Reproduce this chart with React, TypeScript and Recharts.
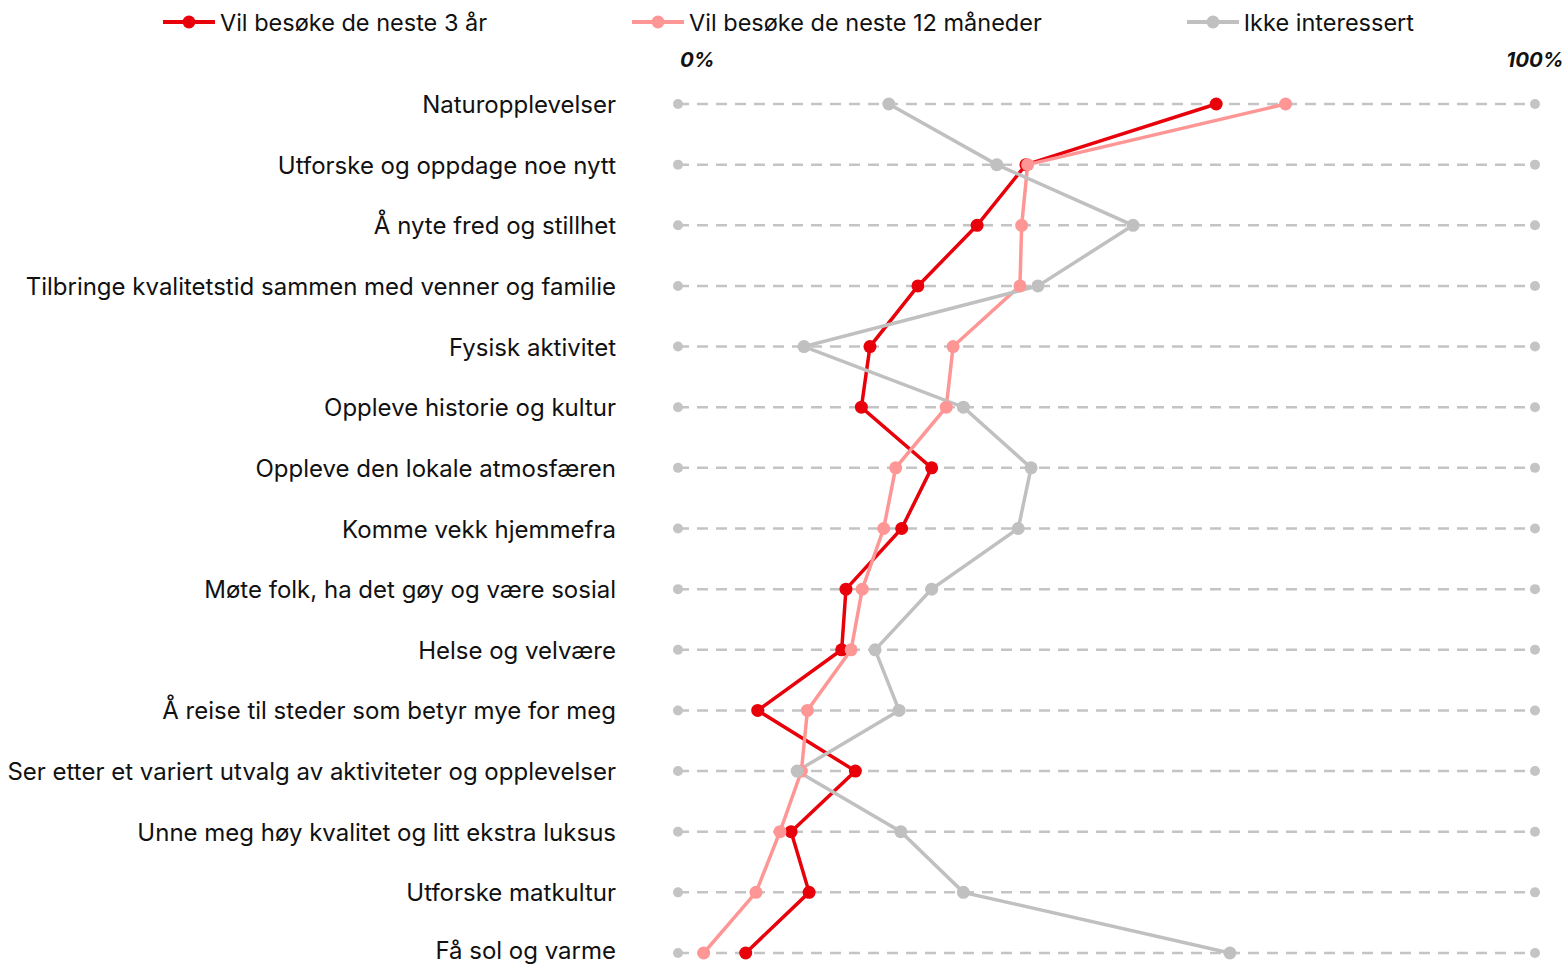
import React from 'react';
import {
  LineChart,
  Line,
  XAxis,
  YAxis,
  CartesianGrid,
  Legend,
  ReferenceDot,
} from 'recharts';

const categories = [
  'Naturopplevelser',
  'Utforske og oppdage noe nytt',
  'Å nyte fred og stillhet',
  'Tilbringe kvalitetstid sammen med venner og familie',
  'Fysisk aktivitet',
  'Oppleve historie og kultur',
  'Oppleve den lokale atmosfæren',
  'Komme vekk hjemmefra',
  'Møte folk, ha det gøy og være sosial',
  'Helse og velvære',
  'Å reise til steder som betyr mye for meg',
  'Ser etter et variert utvalg av aktiviteter og opplevelser',
  'Unne meg høy kvalitet og litt ekstra luksus',
  'Utforske matkultur',
  'Få sol og varme',
];

const visit3Years = [62.8, 40.6, 34.9, 28.0, 22.4, 21.4, 29.6, 26.1, 19.6, 19.1, 9.3, 20.7, 13.2, 15.3, 7.9];
const visit12Months = [70.9, 40.8, 40.1, 39.9, 32.1, 31.3, 25.4, 24.0, 21.5, 20.2, 15.1, 14.4, 11.9, 9.1, 3.0];
const notInterested = [24.6, 37.2, 53.1, 42.0, 14.7, 33.3, 41.2, 39.7, 29.6, 23.0, 25.8, 13.9, 26.0, 33.3, 64.4];

const xTicks = [0, 100];

const series = [
  { key: 'visit3Years', name: 'Vil besøke de neste 3 år', color: '#e8000a' },
  { key: 'visit12Months', name: 'Vil besøke de neste 12 måneder', color: '#ff9696' },
  { key: 'notInterested', name: 'Ikke interessert', color: '#c0c0c0' },
];

const data = categories.map((category, i) => ({
  category,
  visit3Years: visit3Years[i],
  visit12Months: visit12Months[i],
  notInterested: notInterested[i],
}));

const FONT = 'Inter, Roboto, sans-serif';

function CategoryTick({ x, y, payload }: any) {
  // the last label sits a little higher so its descenders stay inside the picture
  const isLast = payload.index === categories.length - 1;
  return (
    <text
      x={x}
      y={y}
      dy={isLast ? 6 : 9}
      textAnchor="end"
      fill="#111"
      fontSize={24}
      fontFamily={FONT}
    >
      {payload.value}
    </text>
  );
}

function PercentTick({ x, y, payload }: any) {
  const isStart = payload.value === 0;
  return (
    <text
      x={isStart ? x + 2 : x}
      y={y}
      textAnchor={isStart ? 'start' : 'middle'}
      fill="#111"
      fontSize={20.5}
      fontWeight={700}
      fontStyle="italic"
      fontFamily={FONT}
    >
      {payload.value}%
    </text>
  );
}

function LegendContent() {
  return (
    <div
      style={{
        display: 'flex',
        justifyContent: 'center',
        gap: 145,
        height: 44,
        paddingLeft: 42,
        alignItems: 'center',
        fontFamily: FONT,
        fontSize: 23.5,
        color: '#111',
      }}
    >
      {series.map((s) => (
        <div key={s.key} style={{ display: 'flex', alignItems: 'center', gap: 5 }}>
          <svg width={52} height={14}>
            <line x1={0} x2={52} y1={7} y2={7} stroke={s.color} strokeWidth={4} />
            <circle cx={26} cy={7} r={6.5} fill={s.color} />
          </svg>
          <span>{s.name}</span>
        </div>
      ))}
    </div>
  );
}

export default function App() {
  return (
    <div style={{ position: 'absolute', left: 0, top: 0, background: '#fff' }}>
      <LineChart
        width={1565}
        height={966}
        data={data}
        layout="vertical"
        margin={{ top: 0, right: 30, bottom: 13, left: 0 }}
      >
        <CartesianGrid
          vertical={false}
          stroke="#c4c4c4"
          strokeWidth={2.5}
          strokeDasharray="11 8"
        />
        <XAxis
          type="number"
          orientation="top"
          domain={[0, 100]}
          ticks={xTicks}
          axisLine={false}
          tickLine={false}
          height={60}
          tickMargin={31}
          tick={<PercentTick />}
        />
        <YAxis
          type="category"
          dataKey="category"
          width={678}
          axisLine={false}
          tickLine={false}
          tickMargin={56}
          interval={0}
          tick={<CategoryTick />}
        />
        <Legend verticalAlign="top" align="center" content={<LegendContent />} />
        {categories.map((c) => (
          <ReferenceDot key={`s-${c}`} x={0} y={c} r={5} fill="#c4c4c4" stroke="none" ifOverflow="visible" />
        ))}
        {categories.map((c) => (
          <ReferenceDot key={`e-${c}`} x={100} y={c} r={5} fill="#c4c4c4" stroke="none" ifOverflow="visible" />
        ))}
        {series.map((s) => (
          <Line
            key={s.key}
            dataKey={s.key}
            name={s.name}
            stroke={s.color}
            strokeWidth={3.5}
            dot={{ r: 6.5, fill: s.color, stroke: 'none' }}
            activeDot={false}
            isAnimationActive={false}
          />
        ))}
      </LineChart>
    </div>
  );
}
